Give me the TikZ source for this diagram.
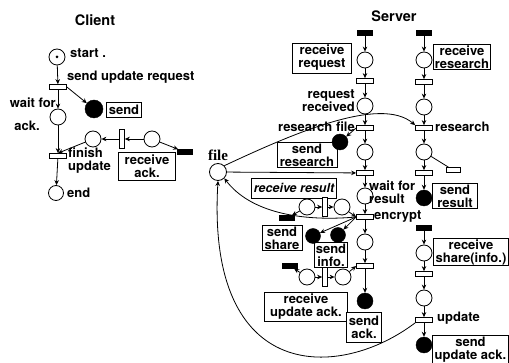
\documentclass[tikz,border=0pt]{standalone}
\usepackage{fontspec}
\setmainfont{TeX Gyre Heros}
\newfontfamily\serifbold{Liberation Serif}
\usetikzlibrary{arrows.meta}
\begin{document}
\begin{tikzpicture}[x=1pt,y=-1pt,
  place/.style={circle,draw,line width=0.8pt,minimum size=16pt,inner sep=0pt,fill=white},
  bplace/.style={circle,draw,fill=black,minimum size=16pt,inner sep=0pt},
  trh/.style={rectangle,draw,line width=0.7pt,fill=white,minimum width=17pt,minimum height=5pt,inner sep=0pt},
  trv/.style={rectangle,draw,line width=0.7pt,fill=white,minimum width=5pt,minimum height=19pt,inner sep=0pt},
  btr/.style={rectangle,draw,fill=black,minimum width=15pt,minimum height=5pt,inner sep=0pt},
  lbl/.style={font=\bfseries\fontsize{13}{13}\selectfont,inner sep=0pt,align=left},
  box/.style={draw,line width=0.8pt,fill=white,font=\bfseries\fontsize{13}{13}\selectfont,align=center,inner sep=1pt},
  arc/.style={line width=0.8pt,-{Stealth[length=5pt,width=4.5pt]}},
  ln/.style={line width=0.8pt},
  ttl/.style={font=\bfseries\fontsize{14.5}{15}\selectfont}
]
\fill[white] (0,0) rectangle (509,363);
\useasboundingbox (0,0) rectangle (509,363);

% ---------------- Client ----------------
\node[ttl] (ctitle) at (95,20) {Client};
\node[place] (cstart) at (57,57) {};
\node[circle,fill,inner sep=0pt,minimum size=3pt] (cdot) at (cstart) {};
\node[lbl,anchor=west] (lstart) at (70,53) {start .};
\node[trh] (ct1) at (58,87) {};
\node[lbl,anchor=west] (lsur) at (67,77) {send update request};
\node[bplace,minimum size=18pt] (csend) at (94,109) {};
\node[box,minimum width=35pt,minimum height=15pt] (bsend) at (124,110) {send};
\node[place] (cwait) at (58,117) {};
\node[lbl,anchor=east] (lwait) at (56,103) {wait for};
\node[lbl,anchor=east] (lack) at (40,126) {ack.};
\node[trh] (cfin) at (58,156) {};
\node[lbl,anchor=west] (lfin) at (68,161) {finish\\update};
\node[place,minimum size=15pt] (cend) at (56,193) {};
\node[lbl,anchor=west] (lend) at (67,193) {end};
\node[place] (cp1) at (93,139) {};
\node[trv] (ctr) at (122,139) {};
\node[place] (cp2) at (152,139) {};
\node[btr] (cbb) at (185,152) {};
\node[box,minimum width=57pt,minimum height=28pt] (back) at (147,166) {receive\\ack.};

\draw[arc] (cstart) -- (ct1);
\draw[arc] (ct1) -- (cwait);
\draw[arc] (ct1.east) -- (csend);
\draw[arc] (cwait) -- (cfin);
\draw[arc] (cfin) -- (cend);
\draw[arc] (cp1) -- (cfin.north);
\draw[arc] (ctr) -- (cp1);
\draw[arc] (cp2) -- (ctr);
\draw[arc] (cp2) -- (cbb);

% ---------------- Server ----------------
\node[ttl] (stitle) at (394,16) {Server};

\node[place,minimum size=17pt] (file) at (218,172) {};
\node[font=\serifbold\bfseries\fontsize{15}{15}\selectfont,inner sep=0pt] (lfile) at (218,155) {file};

% column A
\node[btr] (bA) at (365,33) {};
\node[place] (pA1) at (365,60) {};
\node[trh] (tA1) at (365,81) {};
\node[place] (pA2) at (365,106) {};
\node[trh] (tA2) at (365,128) {};
\node[place] (pA3) at (365,152) {};
\node[trh] (tA3) at (365,173) {};
\node[place] (pA4) at (365,196) {};
\node[trh] (tA4) at (365,217) {};
\node[place] (pA5) at (365,242) {};
\node[trh] (tA5) at (365,266) {};
\node[bplace] (pA6) at (365,301) {};

% column B
\node[btr] (bB) at (424,33) {};
\node[place] (pB1) at (424,60) {};
\node[trh] (tB1) at (424,82) {};
\node[place] (pB2) at (424,107) {};
\node[trh] (tB2) at (424,128) {};
\node[place] (pB3) at (424,152) {};
\node[trh,minimum width=14pt] (tBx) at (453,170) {};
\node[trh] (tB3) at (424,173) {};
\node[bplace] (pB4) at (424,198) {};
\node[btr] (bB2) at (424,228) {};
\node[place] (pB5) at (424,253) {};
\node[trh] (tB4) at (424,274) {};
\node[place] (pB6) at (424,298) {};
\node[trh] (tB5) at (424,320) {};
\node[bplace] (pB7) at (424,345) {};

% curves involving file
\draw[arc] (file.north east) .. controls (290,135) and (380,95) .. (tB2.north west);
\draw[arc] (tA4.west) .. controls (300,222) and (250,212) .. (file.south east);
\draw[arc] (tB5.south west) .. controls (340,380) and (206,385) .. (file.south);
\draw[arc] (file) -- (tA3);

% labels and boxes
\node[box,minimum width=59pt,minimum height=30pt] (brq) at (322,58) {receive\\request};
\node[box,minimum width=57pt,minimum height=25pt] (brres) at (462,57) {receive\\research};
\node[lbl,anchor=east,align=right] (lrr) at (355,101) {request\\received};
\node[lbl,anchor=east] (lrf) at (355,127) {research file};
\node[lbl,anchor=west] (lres) at (435,127) {research};
\node[box,minimum width=60pt,minimum height=24pt] (bsres) at (307,155) {send\\research};
\node[bplace] (psres) at (340,142) {};
\node[box,font=\bfseries\itshape\fontsize{12.5}{12.5}\selectfont,minimum width=85pt,minimum height=20pt] (brres2) at (294,188) {receive result};
\node[lbl,anchor=west] (lwr) at (369,192) {wait for\\result};
\node[lbl,anchor=west] (lenc) at (374,217) {encrypt};
\node[box,minimum width=45pt,minimum height=25pt] (bsresult) at (455,196) {send\\result};
\node[box,minimum width=75pt,minimum height=27pt] (brshare) at (471,252) {receive\\share(info.)};
\node[lbl,anchor=west] (lupd) at (437,318) {update};
\node[box,minimum width=76pt,minimum height=26pt] (bsua) at (470.5,349.5) {send\\update ack.};
\node[box,minimum width=40pt,minimum height=24pt] (bsshare) at (282,238) {send\\share};
\node[box,minimum width=32pt,minimum height=25pt] (bsinfo) at (331,255) {send\\info.};
\node[box,minimum width=83pt,minimum height=29pt] (brua) at (306,307) {receive\\update ack.};
\node[box,minimum width=35pt,minimum height=30pt] (bsack) at (364,327) {send\\ack.};

% receive result chain
\node[place] (rrL) at (307,207) {};
\node[trv] (rrT) at (325,207) {};
\node[place] (rrR) at (342,207) {};
\node[btr] (rrB) at (287,218) {};
% send share / info places
\node[bplace,minimum size=15pt] (bsh) at (313,236) {};
\node[bplace,minimum size=15pt] (bin) at (338,235) {};
% receive update ack chain
\node[place] (uaL) at (307,277) {};
\node[trv] (uaT) at (325,277) {};
\node[place] (uaR) at (343,277) {};
\node[btr] (uaB) at (290,266) {};

% column A arcs
\draw[arc] (bA) -- (pA1);
\draw[arc] (pA1) -- (tA1);
\draw[arc] (tA1) -- (pA2);
\draw[arc] (pA2) -- (tA2);
\draw[arc] (tA2) -- (pA3);
\draw[arc] (pA3) -- (tA3);
\draw[arc] (tA3) -- (pA4);
\draw[arc] (pA4) -- (tA4);
\draw[arc] (tA4) -- (pA5);
\draw[arc] (pA5) -- (tA5);
\draw[arc] (tA5) -- (pA6);
\draw[arc] (tA2.west) -- (psres);
% column B arcs
\draw[arc] (bB) -- (pB1);
\draw[arc] (pB1) -- (tB1);
\draw[arc] (tB1) -- (pB2);
\draw[arc] (pB2) -- (tB2);
\draw[arc] (tB2) -- (pB3);
\draw[arc] (pB3) -- (tB3);
\draw[arc] (tB3) -- (pB4);
\draw[ln] (pB3) -- (tBx);
\draw[arc] (bB2) -- (pB5);
\draw[arc] (pB5) -- (tB4);
\draw[arc] (tB4) -- (pB6);
\draw[arc] (pB6) -- (tB5);
\draw[arc] (tB5) -- (pB7);
% chains
\draw[arc] (rrL) -- (rrT);
\draw[arc] (rrT) -- (rrR);
\draw[arc] (rrR) -- (tA4.west);
\draw[arc] (rrL) -- (rrB);
\draw[arc] (tA4.west) -- (bsh);
\draw[arc] (tA4.west) -- (bin);
\draw[arc] (uaL) -- (uaT);
\draw[arc] (uaT) -- (uaR);
\draw[arc] (uaR) -- (tA5.west);
\draw[arc] (uaL) -- (uaB);
\end{tikzpicture}
\end{document}
